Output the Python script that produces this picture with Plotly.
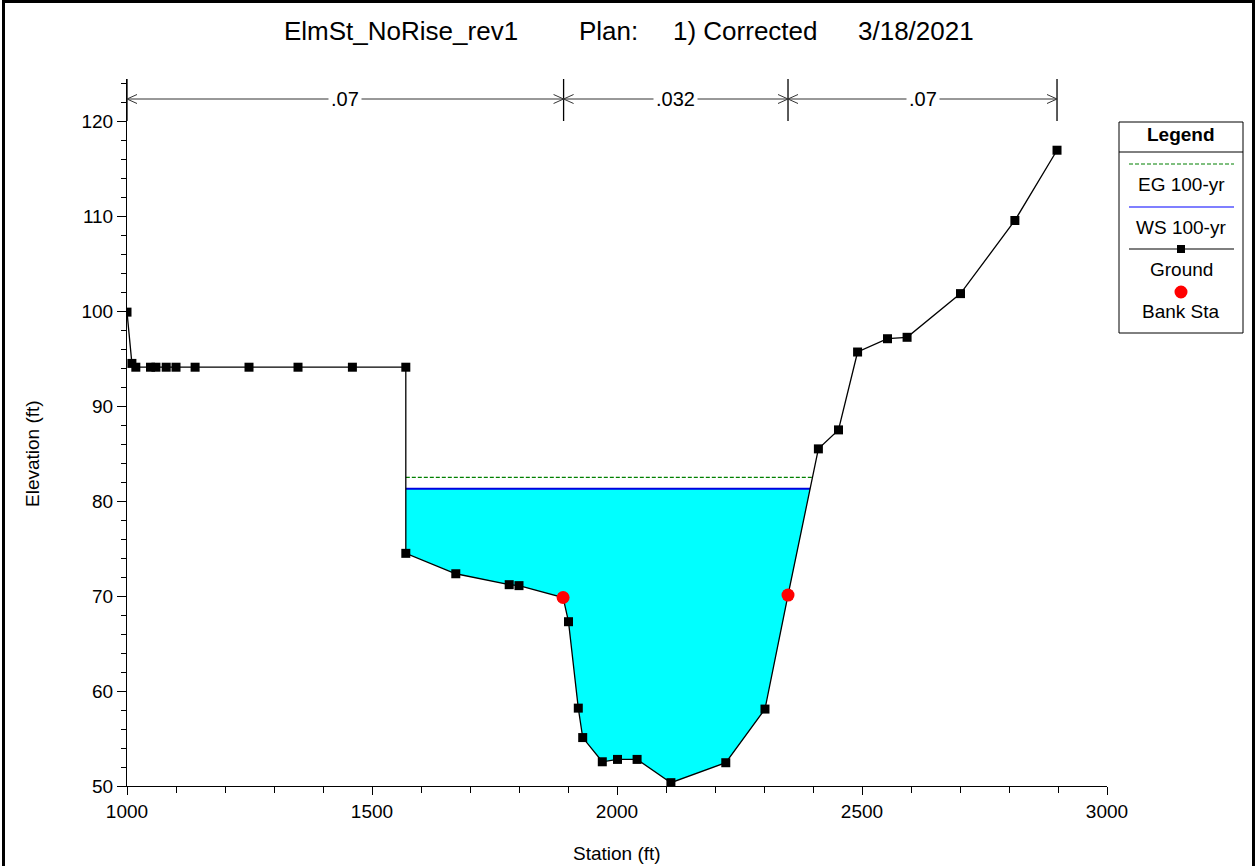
import numpy as np
import plotly.graph_objects as go

# ---------------- data ----------------
ground_station = [1000, 1010, 1018, 1048, 1059, 1080, 1100, 1139, 1249, 1349, 1460, 1569,
                  1569, 1671, 1780, 1800, 1890, 1901, 1921, 1930, 1970, 2001, 2041, 2110, 2222,
                  2302, 2349, 2411, 2452, 2491, 2552, 2592, 2701, 2812, 2898]
ground_elev = [99.9, 94.5, 94.1, 94.1, 94.1, 94.1, 94.1, 94.1, 94.1, 94.1, 94.1, 94.1,
               74.5, 72.35, 71.2, 71.1, 69.85, 67.3, 58.2, 55.1, 52.55, 52.8, 52.8, 50.35, 52.45,
               58.1, 70.1, 85.5, 87.5, 95.7, 97.1, 97.25, 101.85, 109.55, 116.95]
bank_station = [1890, 2349]
bank_elev = [69.85, 70.1]
ws_elev = 81.3
eg_elev = 82.5
n_bounds = [1000, 1891, 2349, 2898]
n_values = [".07", ".032", ".07"]
x_ticks = [1000, 1500, 2000, 2500, 3000]
y_ticks = [50, 60, 70, 80, 90, 100, 110, 120]

# ---------------- layout constants ----------------
W, H = 1255, 866
ML, MR, MT, MB = 127, 148, 79, 80
XR = [1000, 3000]
YR = [50, 124.45]
FONT = "Liberation Sans, Arial, sans-serif"
pw, ph = W - ML - MR, H - MT - MB
px_x = (XR[1] - XR[0]) / pw   # data units per pixel
px_y = (YR[1] - YR[0]) / ph


def pxx(p):  # pixel x -> paper x
    return (p - ML) / pw


def pxy(q):  # pixel y -> paper y
    return (H - MB - q) / ph


def crossings(sta, elev, level):
    sta = np.asarray(sta, float)
    elev = np.asarray(elev, float)
    k = int(np.argmin(elev))
    i = k
    while elev[i] < level:
        i -= 1
    j = k
    while elev[j] < level:
        j += 1
    def cx(a, b):
        if elev[a] == elev[b]:
            return sta[a]
        t = (level - elev[a]) / (elev[b] - elev[a])
        return sta[a] + t * (sta[b] - sta[a])
    xl = cx(i, i + 1)
    xr = cx(j - 1, j)
    return i, j, xl, xr


i, j, xl, xr = crossings(ground_station, ground_elev, ws_elev)
_, _, exl, exr = crossings(ground_station, ground_elev, eg_elev)
poly_x = [xl] + list(ground_station[i + 1:j]) + [xr, xl]
poly_y = [ws_elev] + list(ground_elev[i + 1:j]) + [ws_elev, ws_elev]

fig = go.Figure()
fig.add_trace(go.Scatter(x=poly_x, y=poly_y, mode="lines", fill="toself",
                         fillcolor="#00FFFF", line=dict(width=0, color="#00FFFF"),
                         hoverinfo="skip", showlegend=False))
fig.add_trace(go.Scatter(x=[exl, exr], y=[eg_elev, eg_elev], mode="lines",
                         line=dict(color="#008000", width=1.4, dash="4px,2px"),
                         name="EG 100-yr", showlegend=False))
fig.add_trace(go.Scatter(x=[xl, xr], y=[ws_elev, ws_elev], mode="lines",
                         line=dict(color="#0000E0", width=2.2),
                         name="WS 100-yr", showlegend=False))
fig.add_trace(go.Scatter(x=ground_station, y=ground_elev, mode="lines+markers",
                         line=dict(color="black", width=1.3),
                         marker=dict(symbol="square", size=9, color="black"),
                         name="Ground", showlegend=False))
fig.add_trace(go.Scatter(x=bank_station, y=bank_elev, mode="markers",
                         marker=dict(symbol="circle", size=13, color="#FF0000"),
                         name="Bank Sta", showlegend=False))

shapes = []
annotations = []

# Manning's n markers
n_y = YR[1] - 20 * px_y
tick_top = YR[1]
tick_bot = YR[1] - 42 * px_y
ah_dx = 10 * px_x
ah_dy = 4.5 * px_y
ncol = "#333333"
for b in n_bounds:
    shapes.append(dict(type="line", xref="x", yref="y", x0=b, x1=b, y0=tick_bot, y1=tick_top,
                       line=dict(color="black", width=1.3)))
for a, b, lab in zip(n_bounds[:-1], n_bounds[1:], n_values):
    shapes.append(dict(type="line", xref="x", yref="y", x0=a, x1=b, y0=n_y, y1=n_y,
                       line=dict(color=ncol, width=1)))
    shapes.append(dict(type="path", xref="x", yref="y",
                       path=f"M {a + ah_dx},{n_y + ah_dy} L {a},{n_y} L {a + ah_dx},{n_y - ah_dy}",
                       line=dict(color=ncol, width=1)))
    shapes.append(dict(type="path", xref="x", yref="y",
                       path=f"M {b - ah_dx},{n_y + ah_dy} L {b},{n_y} L {b - ah_dx},{n_y - ah_dy}",
                       line=dict(color=ncol, width=1)))
    annotations.append(dict(x=(a + b) / 2, y=n_y, xref="x", yref="y", text=lab, showarrow=False,
                            font=dict(family=FONT, size=20, color="black"), bgcolor="white",
                            borderpad=2, xanchor="center", yanchor="middle"))

# title chunks
for txt, p in [("ElmSt_NoRise_rev1", 282), ("Plan:", 577), ("1) Corrected", 671), ("3/18/2021", 856)]:
    annotations.append(dict(x=pxx(p), y=pxy(31), xref="paper", yref="paper", text=txt,
                            showarrow=False, xanchor="left", yanchor="middle",
                            font=dict(family=FONT, size=26, color="black")))

# axis titles
annotations.append(dict(x=pxx(617), y=pxy(853), xref="paper", yref="paper", text="Station (ft)",
                        showarrow=False, xanchor="center", yanchor="middle",
                        font=dict(family=FONT, size=19, color="black")))
annotations.append(dict(x=pxx(32), y=pxy(454), xref="paper", yref="paper", text="Elevation (ft)",
                        showarrow=False, xanchor="center", yanchor="middle", textangle=-90,
                        font=dict(family=FONT, size=19, color="black")))

# legend box
LX0, LX1, LY0, LY1 = 1119, 1243, 122, 333
LC = 1181
shapes.append(dict(type="rect", xref="paper", yref="paper", x0=pxx(LX0), x1=pxx(LX1),
                   y0=pxy(LY1), y1=pxy(LY0), line=dict(color="black", width=1), fillcolor="white"))
shapes.append(dict(type="line", xref="paper", yref="paper", x0=pxx(LX0), x1=pxx(LX1),
                   y0=pxy(152), y1=pxy(152), line=dict(color="black", width=1)))
annotations.append(dict(x=pxx(LC), y=pxy(135), xref="paper", yref="paper", text="<b>Legend</b>",
                        showarrow=False, xanchor="center", yanchor="middle",
                        font=dict(family=FONT, size=19, color="black")))
shapes.append(dict(type="line", xref="paper", yref="paper", x0=pxx(1129), x1=pxx(1234),
                   y0=pxy(164), y1=pxy(164), line=dict(color="#008000", width=1.2, dash="4px,2px")))
shapes.append(dict(type="line", xref="paper", yref="paper", x0=pxx(1129), x1=pxx(1234),
                   y0=pxy(207), y1=pxy(207), line=dict(color="#0000FF", width=1.2)))
shapes.append(dict(type="line", xref="paper", yref="paper", x0=pxx(1129), x1=pxx(1234),
                   y0=pxy(249), y1=pxy(249), line=dict(color="black", width=1.2)))
shapes.append(dict(type="rect", xref="paper", yref="paper", x0=pxx(LC - 4), x1=pxx(LC + 4),
                   y0=pxy(253), y1=pxy(245), line=dict(width=0), fillcolor="black"))
shapes.append(dict(type="circle", xref="paper", yref="paper", x0=pxx(LC - 6.5), x1=pxx(LC + 6.5),
                   y0=pxy(298.5), y1=pxy(285.5), line=dict(width=0), fillcolor="#FF0000"))
for txt, q in [("EG 100-yr", 185), ("WS 100-yr", 227), ("Ground", 269), ("Bank Sta", 311)]:
    annotations.append(dict(x=pxx(LC), y=pxy(q), xref="paper", yref="paper", text=txt,
                            showarrow=False, xanchor="center", yanchor="middle",
                            font=dict(family=FONT, size=19, color="black")))

# outer frame
shapes.append(dict(type="rect", xref="paper", yref="paper", x0=pxx(3.5), x1=pxx(1253.5),
                   y0=pxy(900), y1=pxy(1.5), line=dict(color="black", width=3), layer="above"))

fig.update_layout(
    width=W, height=H, autosize=False,
    margin=dict(l=ML, r=MR, t=MT, b=MB, pad=0),
    paper_bgcolor="white", plot_bgcolor="white",
    showlegend=False,
    shapes=shapes, annotations=annotations,
    font=dict(family=FONT, size=19, color="black"),
    xaxis=dict(range=XR, tickvals=x_ticks, showgrid=False, zeroline=False,
               showline=True, linecolor="black", linewidth=1,
               ticks="outside", ticklen=8, tickcolor="black", tickwidth=1,
               minor=dict(dtick=100, tick0=1000, ticks="outside", ticklen=6, tickcolor="black"),
               tickfont=dict(family=FONT, size=19, color="black")),
    yaxis=dict(range=YR, tickvals=y_ticks, showgrid=False, zeroline=False,
               showline=True, linecolor="black", linewidth=1,
               ticks="outside", ticklen=9, tickcolor="black", tickwidth=1,
               minor=dict(dtick=2, tick0=50, ticks="outside", ticklen=5, tickcolor="black"),
               tickfont=dict(family=FONT, size=19, color="black")),
)

fig.write_html("out.html", config={"displayModeBar": False},
               post_script="document.body.style.margin='0';document.body.style.overflow='hidden';")
